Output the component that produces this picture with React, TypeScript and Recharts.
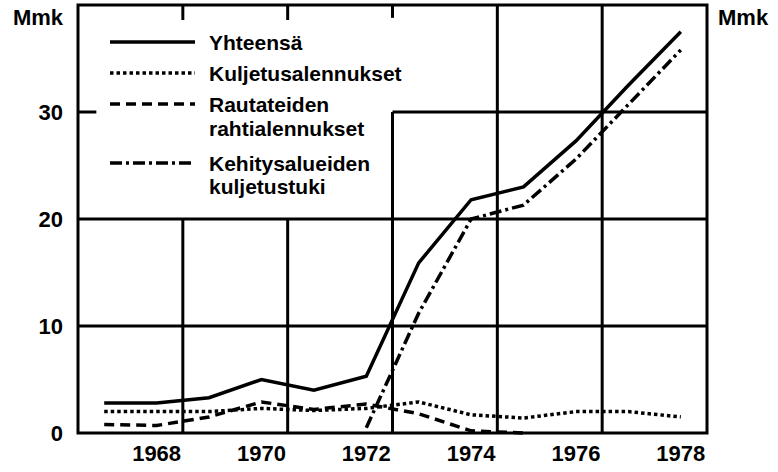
import React from "react";
import {
  LineChart,
  Line,
  XAxis,
  YAxis,
  ReferenceLine,
  ReferenceArea,
} from "recharts";

const years = [1967, 1968, 1969, 1970, 1971, 1972, 1973, 1974, 1975, 1976, 1977, 1978];
const yhteensa = [2.8, 2.8, 3.3, 5.0, 4.0, 5.3, 15.9, 21.8, 23.0, 27.3, 32.5, 37.5];
const kuljetusalennukset = [2.0, 2.0, 2.0, 2.3, 2.1, 2.3, 2.9, 1.7, 1.4, 2.0, 2.0, 1.5];
const rahtialennukset = [0.8, 0.7, 1.5, 2.9, 2.2, 2.7, 1.8, 0.2, 0.0, null, null, null];
const kuljetustuki = [null, null, null, null, null, 0.5, 11.2, 20.0, 21.3, 25.6, 30.7, 35.8];

const xTicks = [1968, 1970, 1972, 1974, 1976, 1978];
const yTicks = [0, 10, 20, 30];

const data = years.map((year, i) => ({
  year,
  yhteensa: yhteensa[i],
  kuljetusalennukset: kuljetusalennukset[i],
  rahtialennukset: rahtialennukset[i],
  kuljetustuki: kuljetustuki[i],
}));

const FONT = "'Liberation Sans', Arial, sans-serif";
const INK = "#000";
const LINE_W = 3.5;

const series = [
  { key: "yhteensa", label: ["Yhteensä"], dash: undefined as string | undefined },
  { key: "kuljetusalennukset", label: ["Kuljetusalennukset"], dash: "3.5 3" },
  { key: "rahtialennukset", label: ["Rautateiden", "rahtialennukset"], dash: "10 6" },
  { key: "kuljetustuki", label: ["Kehitysalueiden", "kuljetustuki"], dash: "12 4 3 4" },
];

// legend rows: y of symbol, y of each text line
const legendRows = [
  { y: 20, lines: [20] },
  { y: 51, lines: [51] },
  { y: 82, lines: [82, 106] },
  { y: 141, lines: [141, 164] },
];

function ChartLegend() {
  return (
    <svg width={300} height={180} style={{ display: "block" }}>
      {series.map((s, i) => (
        <g key={s.key}>
          <line
            x1={5}
            x2={90}
            y1={legendRows[i].y}
            y2={legendRows[i].y}
            stroke={INK}
            strokeWidth={LINE_W}
            strokeDasharray={s.dash}
          />
          {s.label.map((t, j) => (
            <text
              key={j}
              x={104}
              y={legendRows[i].lines[j]}
              dominantBaseline="central"
              fontFamily={FONT}
              fontWeight="bold"
              fontSize={21}
              fill={INK}
            >
              {t}
            </text>
          ))}
        </g>
      ))}
    </svg>
  );
}

const MmkLabel = ({ viewBox, side }: any) => {
  if (!viewBox) return null;
  const x = side === "left" ? viewBox.x + viewBox.width - 15 : viewBox.x + 11;
  return (
    <text
      x={x}
      y={viewBox.y + 12}
      textAnchor={side === "left" ? "end" : "start"}
      dominantBaseline="central"
      fontFamily={FONT}
      fontWeight="bold"
      fontSize={22}
      fill={INK}
    >
      Mmk
    </text>
  );
};

const tickStyle = { fontSize: 22, fontWeight: "bold", fill: INK, fontFamily: FONT };

export default function App() {
  return (
    <div style={{ position: "absolute", left: 0, top: 0, width: 778, height: 472, background: "#fff" }}>
      <LineChart
        width={778}
        height={472}
        data={data}
        margin={{ top: 5, right: 0, bottom: 0, left: 0 }}
      >
        <XAxis
          dataKey="year"
          type="number"
          domain={[1966.5, 1978.5]}
          ticks={xTicks}
          tick={tickStyle}
          tickLine={false}
          axisLine={false}
          tickSize={0}
          tickMargin={12}
          height={39}
          allowDataOverflow
        />
        <YAxis
          yAxisId="left"
          orientation="left"
          domain={[0, 40]}
          ticks={yTicks}
          tick={tickStyle}
          tickLine={false}
          axisLine={false}
          tickSize={0}
          tickMargin={15}
          width={78}
          label={<MmkLabel side="left" />}
        />
        <YAxis
          yAxisId="right"
          orientation="right"
          domain={[0, 40]}
          ticks={yTicks}
          tick={tickStyle}
          tickLine={false}
          axisLine={false}
          tickSize={0}
          tickMargin={11}
          width={71}
          label={<MmkLabel side="right" />}
        />
        <ReferenceArea
          yAxisId="left"
          x1={1966.5}
          x2={1978.5}
          y1={0}
          y2={40}
          fill="none"
          stroke={INK}
          strokeWidth={3}
        />
        {/* horizontal grid */}
        <ReferenceLine yAxisId="left" y={10} stroke={INK} strokeWidth={3} />
        <ReferenceLine yAxisId="left" y={20} stroke={INK} strokeWidth={3} />
        <ReferenceLine
          yAxisId="left"
          segment={[{ x: 1972.5, y: 30 }, { x: 1978.5, y: 30 }]}
          stroke={INK}
          strokeWidth={3}
        />
        <ReferenceLine
          yAxisId="left"
          segment={[{ x: 1966.5, y: 30 }, { x: 1966.85, y: 30 }]}
          stroke={INK}
          strokeWidth={3}
        />
        {/* vertical grid */}
        <ReferenceLine
          yAxisId="left"
          segment={[{ x: 1968.5, y: 0 }, { x: 1968.5, y: 20 }]}
          stroke={INK}
          strokeWidth={3}
        />
        <ReferenceLine
          yAxisId="left"
          segment={[{ x: 1970.5, y: 0 }, { x: 1970.5, y: 20 }]}
          stroke={INK}
          strokeWidth={3}
        />
        <ReferenceLine
          yAxisId="left"
          segment={[{ x: 1972.5, y: 0 }, { x: 1972.5, y: 30 }]}
          stroke={INK}
          strokeWidth={3}
        />
        <ReferenceLine yAxisId="left" x={1974.5} stroke={INK} strokeWidth={3} />
        <ReferenceLine yAxisId="left" x={1976.5} stroke={INK} strokeWidth={3} />
        {/* short ticks along the top edge */}
        <ReferenceLine
          yAxisId="left"
          segment={[{ x: 1968.5, y: 40 }, { x: 1968.5, y: 38.6 }]}
          stroke={INK}
          strokeWidth={3}
        />
        <ReferenceLine
          yAxisId="left"
          segment={[{ x: 1970.5, y: 40 }, { x: 1970.5, y: 38.6 }]}
          stroke={INK}
          strokeWidth={3}
        />
        <ReferenceLine
          yAxisId="left"
          segment={[{ x: 1972.5, y: 40 }, { x: 1972.5, y: 38.8 }]}
          stroke={INK}
          strokeWidth={3}
        />
        {series.map((s) => (
          <Line
            key={s.key}
            yAxisId="left"
            dataKey={s.key}
            type="linear"
            stroke={INK}
            strokeWidth={LINE_W}
            strokeDasharray={s.dash}
            dot={false}
            activeDot={false}
            connectNulls={false}
            isAnimationActive={false}
          />
        ))}
      </LineChart>
      <div style={{ position: "absolute", top: 22, left: 105 }}>
        <ChartLegend />
      </div>
    </div>
  );
}
